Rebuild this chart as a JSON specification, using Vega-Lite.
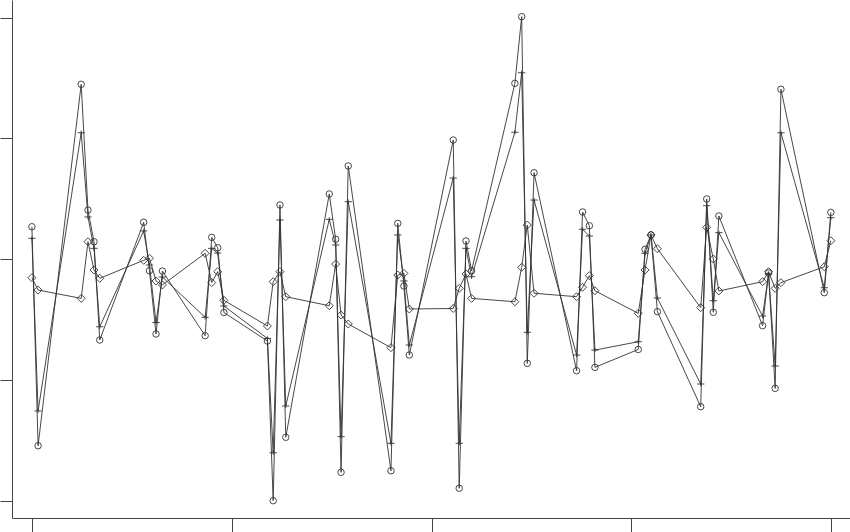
{
  "$schema": "https://vega.github.io/schema/vega-lite/v6.json",
  "width": 838,
  "height": 518,
  "autosize": {"type": "none"},
  "padding": {"left": 12, "top": 0, "right": 0, "bottom": 14},
  "config": {
    "view": {"stroke": null},
    "axis": {"grid": false, "labels": false, "title": null, "domainColor": "#444", "tickColor": "#444", "domainWidth": 1, "tickWidth": 1}
  },
  "data": {
    "values": [
      {"x": -0.03, "s": "A", "y": 22.68}, {"x": -0.03, "s": "B", "y": 21.72}, {"x": -0.03, "s": "C", "y": 18.46},
      {"x": 0.28, "s": "A", "y": 4.55}, {"x": 0.28, "s": "B", "y": 7.43}, {"x": 0.28, "s": "C", "y": 17.44},
      {"x": 2.44, "s": "A", "y": 34.47}, {"x": 2.44, "s": "B", "y": 30.46}, {"x": 2.44, "s": "C", "y": 16.75},
      {"x": 2.78, "s": "A", "y": 24.06}, {"x": 2.78, "s": "B", "y": 23.49}, {"x": 2.78, "s": "C", "y": 21.44},
      {"x": 3.08, "s": "A", "y": 21.44}, {"x": 3.08, "s": "B", "y": 20.89}, {"x": 3.08, "s": "C", "y": 19.10},
      {"x": 3.37, "s": "A", "y": 13.30}, {"x": 3.37, "s": "B", "y": 14.40}, {"x": 3.37, "s": "C", "y": 18.41},
      {"x": 5.57, "s": "A", "y": 23.05}, {"x": 5.57, "s": "B", "y": 22.33}, {"x": 5.57, "s": "C", "y": 19.90},
      {"x": 5.86, "s": "A", "y": 19.04}, {"x": 5.86, "s": "B", "y": 19.51}, {"x": 5.86, "s": "C", "y": 20.07},
      {"x": 6.19, "s": "A", "y": 13.80}, {"x": 6.19, "s": "B", "y": 14.75}, {"x": 6.19, "s": "C", "y": 18.19},
      {"x": 6.51, "s": "A", "y": 19.01}, {"x": 6.51, "s": "B", "y": 18.52}, {"x": 6.51, "s": "C", "y": 17.86},
      {"x": 8.65, "s": "A", "y": 13.66}, {"x": 8.65, "s": "B", "y": 15.18}, {"x": 8.65, "s": "C", "y": 20.48},
      {"x": 8.98, "s": "A", "y": 21.80}, {"x": 8.98, "s": "B", "y": 20.89}, {"x": 8.98, "s": "C", "y": 18.06},
      {"x": 9.28, "s": "A", "y": 20.94}, {"x": 9.28, "s": "B", "y": 20.50}, {"x": 9.28, "s": "C", "y": 18.96},
      {"x": 9.59, "s": "A", "y": 15.58}, {"x": 9.59, "s": "B", "y": 16.12}, {"x": 9.59, "s": "C", "y": 16.59},
      {"x": 11.77, "s": "A", "y": 13.22}, {"x": 11.77, "s": "B", "y": 13.43}, {"x": 11.77, "s": "C", "y": 14.46},
      {"x": 12.06, "s": "A", "y": 0.00}, {"x": 12.06, "s": "B", "y": 3.97}, {"x": 12.06, "s": "C", "y": 18.13},
      {"x": 12.40, "s": "A", "y": 24.48}, {"x": 12.40, "s": "B", "y": 23.24}, {"x": 12.40, "s": "C", "y": 18.96},
      {"x": 12.69, "s": "A", "y": 5.25}, {"x": 12.69, "s": "B", "y": 7.84}, {"x": 12.69, "s": "C", "y": 16.89},
      {"x": 14.87, "s": "A", "y": 25.39}, {"x": 14.87, "s": "B", "y": 23.29}, {"x": 14.87, "s": "C", "y": 16.14},
      {"x": 15.19, "s": "A", "y": 21.64}, {"x": 15.19, "s": "B", "y": 21.17}, {"x": 15.19, "s": "C", "y": 19.59},
      {"x": 15.46, "s": "A", "y": 2.35}, {"x": 15.46, "s": "B", "y": 5.30}, {"x": 15.46, "s": "C", "y": 15.37},
      {"x": 15.82, "s": "A", "y": 27.71}, {"x": 15.82, "s": "B", "y": 24.75}, {"x": 15.82, "s": "C", "y": 14.63},
      {"x": 17.96, "s": "A", "y": 2.48}, {"x": 17.96, "s": "B", "y": 4.75}, {"x": 17.96, "s": "C", "y": 12.67},
      {"x": 18.30, "s": "A", "y": 22.96}, {"x": 18.30, "s": "B", "y": 22.00}, {"x": 18.30, "s": "C", "y": 18.68},
      {"x": 18.61, "s": "A", "y": 17.77}, {"x": 18.61, "s": "B", "y": 18.19}, {"x": 18.61, "s": "C", "y": 18.82},
      {"x": 18.88, "s": "A", "y": 12.06}, {"x": 18.88, "s": "B", "y": 12.89}, {"x": 18.88, "s": "C", "y": 15.87},
      {"x": 21.08, "s": "A", "y": 29.86}, {"x": 21.08, "s": "B", "y": 26.71}, {"x": 21.08, "s": "C", "y": 15.91},
      {"x": 21.38, "s": "A", "y": 1.03}, {"x": 21.38, "s": "B", "y": 4.75}, {"x": 21.38, "s": "C", "y": 17.58},
      {"x": 21.72, "s": "A", "y": 21.50}, {"x": 21.72, "s": "B", "y": 20.89}, {"x": 21.72, "s": "C", "y": 18.77},
      {"x": 22.00, "s": "A", "y": 19.04}, {"x": 22.00, "s": "B", "y": 18.54}, {"x": 22.00, "s": "C", "y": 16.75},
      {"x": 24.17, "s": "A", "y": 34.55}, {"x": 24.17, "s": "B", "y": 30.50}, {"x": 24.17, "s": "C", "y": 16.47},
      {"x": 24.51, "s": "A", "y": 40.07}, {"x": 24.51, "s": "B", "y": 35.43}, {"x": 24.51, "s": "C", "y": 19.32},
      {"x": 24.79, "s": "A", "y": 11.37}, {"x": 24.79, "s": "B", "y": 13.94}, {"x": 24.79, "s": "C", "y": 22.82},
      {"x": 25.13, "s": "A", "y": 27.15}, {"x": 25.13, "s": "B", "y": 24.89}, {"x": 25.13, "s": "C", "y": 17.17},
      {"x": 27.26, "s": "A", "y": 10.76}, {"x": 27.26, "s": "B", "y": 12.06}, {"x": 27.26, "s": "C", "y": 16.89},
      {"x": 27.56, "s": "A", "y": 23.90}, {"x": 27.56, "s": "B", "y": 22.47}, {"x": 27.56, "s": "C", "y": 17.67},
      {"x": 27.90, "s": "A", "y": 22.76}, {"x": 27.90, "s": "B", "y": 21.91}, {"x": 27.90, "s": "C", "y": 18.63},
      {"x": 28.18, "s": "A", "y": 11.04}, {"x": 28.18, "s": "B", "y": 12.47}, {"x": 28.18, "s": "C", "y": 17.38},
      {"x": 30.35, "s": "A", "y": 12.52}, {"x": 30.35, "s": "B", "y": 13.16}, {"x": 30.35, "s": "C", "y": 15.51},
      {"x": 30.69, "s": "A", "y": 20.81}, {"x": 30.69, "s": "B", "y": 20.48}, {"x": 30.69, "s": "C", "y": 19.10},
      {"x": 30.99, "s": "A", "y": 22.00}, {"x": 30.99, "s": "B", "y": 22.00}, {"x": 30.99, "s": "C", "y": 22.00},
      {"x": 31.31, "s": "A", "y": 15.65}, {"x": 31.31, "s": "B", "y": 16.78}, {"x": 31.31, "s": "C", "y": 20.86},
      {"x": 33.48, "s": "A", "y": 7.78}, {"x": 33.48, "s": "B", "y": 9.66}, {"x": 33.48, "s": "C", "y": 15.98},
      {"x": 33.78, "s": "A", "y": 24.98}, {"x": 33.78, "s": "B", "y": 24.42}, {"x": 33.78, "s": "C", "y": 22.63},
      {"x": 34.11, "s": "A", "y": 15.60}, {"x": 34.11, "s": "B", "y": 16.56}, {"x": 34.11, "s": "C", "y": 20.01},
      {"x": 34.39, "s": "A", "y": 23.57}, {"x": 34.39, "s": "B", "y": 22.19}, {"x": 34.39, "s": "C", "y": 17.36},
      {"x": 36.58, "s": "A", "y": 14.49}, {"x": 36.58, "s": "B", "y": 15.29}, {"x": 36.58, "s": "C", "y": 18.13},
      {"x": 36.88, "s": "A", "y": 18.85}, {"x": 36.88, "s": "B", "y": 18.77}, {"x": 36.88, "s": "C", "y": 18.96},
      {"x": 37.21, "s": "A", "y": 9.30}, {"x": 37.21, "s": "B", "y": 11.15}, {"x": 37.21, "s": "C", "y": 17.58},
      {"x": 37.50, "s": "A", "y": 34.06}, {"x": 37.50, "s": "B", "y": 30.46}, {"x": 37.50, "s": "C", "y": 18.05},
      {"x": 39.67, "s": "A", "y": 17.22}, {"x": 39.67, "s": "B", "y": 17.63}, {"x": 39.67, "s": "C", "y": 19.37},
      {"x": 40.00, "s": "A", "y": 23.87}, {"x": 40.00, "s": "B", "y": 23.43}, {"x": 40.00, "s": "C", "y": 21.52}
    ]
  },
  "encoding": {
    "x": {
      "field": "x",
      "type": "quantitative",
      "scale": {"domain": [-1.027, 40.96], "nice": false, "zero": false},
      "axis": {"values": [0, 10, 20, 30, 40], "tickSize": 14}
    },
    "y": {
      "field": "y",
      "type": "quantitative",
      "scale": {"domain": [-1.432, 41.45], "nice": false, "zero": false},
      "axis": {"values": [0, 10, 20, 30, 40], "tickSize": 12}
    }
  },
  "layer": [
    {
      "mark": {"type": "line", "stroke": "#333", "strokeWidth": 0.9},
      "encoding": {"detail": {"field": "s", "type": "nominal"}}
    },
    {
      "mark": {"type": "point", "filled": false, "stroke": "#333", "strokeWidth": 0.9, "opacity": 1},
      "encoding": {
        "shape": {
          "field": "s",
          "type": "nominal",
          "scale": {"domain": ["A", "B", "C"], "range": ["circle", "M-1,0H1M0,-0.6V0.6", "diamond"]},
          "legend": null
        },
        "size": {
          "field": "s",
          "type": "nominal",
          "scale": {"domain": ["A", "B", "C"], "range": [42, 64, 30]},
          "legend": null
        }
      }
    }
  ]
}
